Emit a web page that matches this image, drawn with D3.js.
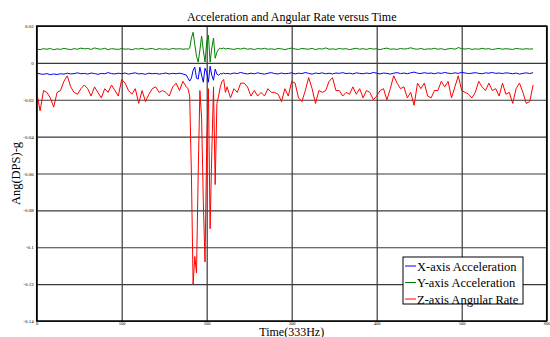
<!DOCTYPE html>
<html>
<head>
<meta charset="utf-8">
<script src="https://cdn.jsdelivr.net/npm/d3@7"></script>
<style>
  body { margin: 0; background: #fff; }
  svg { display: block; font-family: "Liberation Serif", "Times New Roman", serif; }
</style>
</head>
<body>
<svg width="550" height="337"></svg>
<script>
// sample grid: every 4 samples, every 2 samples around the impact
const sampleTimes = [].concat(d3.range(0, 177, 4), d3.range(178, 225, 2), d3.range(228, 585, 4));

const xTicks = [0, 100, 200, 300, 400, 500, 600];
const yTicks = [0.02, 0, -0.02, -0.04, -0.06, -0.08, -0.1, -0.12, -0.14];

const seriesNames = ["X-axis Acceleration", "Y-axis Acceleration", "Z-axis Angular Rate"];
const seriesColors = ["#0000ff", "#008000", "#ff0000"];

const xAccel = [
  -0.0055,-0.0060,-0.0062,-0.0058,-0.0064,-0.0060,-0.0063,-0.0059,-0.0061,-0.0056,
  -0.0060,-0.0058,-0.0054,-0.0059,-0.0057,-0.0061,-0.0055,-0.0058,-0.0062,-0.0057,
  -0.0059,-0.0053,-0.0058,-0.0060,-0.0056,-0.0059,-0.0055,-0.0061,-0.0057,-0.0054,
  -0.0060,-0.0058,-0.0062,-0.0056,-0.0059,-0.0057,-0.0061,-0.0058,-0.0055,-0.0060,
  -0.0057,-0.0059,-0.0056,-0.0060,-0.0066,
  -0.0083,-0.0099,-0.0083,-0.0040,-0.0023,-0.0083,-0.0088,-0.0023,-0.0067,-0.0105,
  -0.0029,-0.0050,-0.0105,-0.0018,-0.0067,-0.0094,-0.0034,-0.0061,-0.0067,-0.0058,
  -0.0060,-0.0055,-0.0059,-0.0057,
  -0.0060,-0.0055,-0.0058,-0.0052,-0.0057,-0.0060,-0.0056,-0.0059,-0.0054,-0.0058,
  -0.0061,-0.0056,-0.0053,-0.0058,-0.0060,-0.0055,-0.0059,-0.0057,-0.0054,-0.0060,
  -0.0056,-0.0058,-0.0052,-0.0057,-0.0061,-0.0055,-0.0058,-0.0054,-0.0059,-0.0056,
  -0.0060,-0.0055,-0.0057,-0.0053,-0.0058,-0.0056,-0.0060,-0.0054,-0.0057,-0.0059,
  -0.0055,-0.0058,-0.0052,-0.0056,-0.0060,-0.0055,-0.0057,-0.0061,-0.0056,-0.0053,
  -0.0058,-0.0055,-0.0059,-0.0054,-0.0050,-0.0056,-0.0058,-0.0053,-0.0057,-0.0055,
  -0.0059,-0.0054,-0.0057,-0.0052,-0.0056,-0.0058,-0.0054,-0.0057,-0.0051,-0.0055,
  -0.0058,-0.0056,-0.0053,-0.0057,-0.0059,-0.0054,-0.0056,-0.0052,-0.0057,-0.0055,
  -0.0058,-0.0054,-0.0056,-0.0059,-0.0055,-0.0061,-0.0057,-0.0054,-0.0058,-0.0053
];

const yAccel = [
  0.0075,0.0072,0.0077,0.0074,0.0078,0.0071,0.0076,0.0073,0.0079,0.0075,
  0.0072,0.0077,0.0074,0.0080,0.0076,0.0078,0.0073,0.0081,0.0076,0.0074,
  0.0079,0.0072,0.0077,0.0075,0.0073,0.0078,0.0074,0.0076,0.0071,0.0077,
  0.0075,0.0079,0.0073,0.0076,0.0078,0.0072,0.0077,0.0074,0.0076,0.0073,
  0.0078,0.0075,0.0077,0.0074,0.0076,
  0.0074,0.0080,0.0134,0.0166,0.0100,0.0036,0.0004,0.0069,0.0145,0.0069,
  0.0004,0.0112,0.0150,0.0004,0.0080,0.0134,0.0025,0.0058,0.0074,0.0079,
  0.0076,0.0081,0.0075,0.0078,
  0.0076,0.0073,0.0078,0.0075,0.0080,0.0074,0.0077,0.0072,0.0078,0.0075,
  0.0079,0.0074,0.0076,0.0073,0.0078,0.0076,0.0072,0.0077,0.0080,0.0075,
  0.0073,0.0078,0.0076,0.0074,0.0079,0.0072,0.0077,0.0075,0.0081,0.0074,
  0.0076,0.0073,0.0078,0.0075,0.0077,0.0072,0.0076,0.0079,0.0074,0.0077,
  0.0073,0.0078,0.0075,0.0076,0.0072,0.0077,0.0080,0.0074,0.0076,0.0073,
  0.0078,0.0075,0.0077,0.0082,0.0076,0.0074,0.0078,0.0073,0.0076,0.0075,
  0.0079,0.0074,0.0077,0.0072,0.0076,0.0078,0.0074,0.0083,0.0077,0.0075,
  0.0078,0.0073,0.0076,0.0074,0.0079,0.0075,0.0077,0.0072,0.0076,0.0078,
  0.0074,0.0077,0.0075,0.0073,0.0078,0.0076,0.0074,0.0077,0.0075,0.0076
];

const zRate = [
  -0.016,-0.026,-0.015,-0.016,-0.019,-0.024,-0.016,-0.015,-0.010,-0.007,
  -0.013,-0.016,-0.017,-0.014,-0.012,-0.014,-0.018,-0.013,-0.016,-0.019,
  -0.014,-0.016,-0.012,-0.015,-0.018,-0.009,-0.011,-0.015,-0.017,-0.014,
  -0.022,-0.015,-0.021,-0.017,-0.014,-0.013,-0.016,-0.015,-0.016,-0.018,
  -0.013,-0.011,-0.015,-0.010,-0.013,
  -0.014,-0.018,-0.060,-0.120,-0.105,-0.114,-0.060,-0.015,-0.030,-0.075,
  -0.108,-0.045,-0.014,-0.090,-0.048,-0.013,-0.066,-0.022,-0.018,-0.013,
  -0.010,-0.009,-0.016,-0.013,
  -0.019,-0.014,-0.016,-0.011,-0.011,-0.013,-0.018,-0.015,-0.018,-0.016,
  -0.018,-0.014,-0.016,-0.016,-0.017,-0.021,-0.014,-0.018,-0.010,-0.011,
  -0.019,-0.021,-0.015,-0.008,-0.014,-0.022,-0.015,-0.016,-0.015,-0.010,
  -0.008,-0.015,-0.015,-0.018,-0.016,-0.017,-0.013,-0.017,-0.014,-0.019,
  -0.015,-0.016,-0.020,-0.018,-0.015,-0.014,-0.020,-0.014,-0.007,-0.011,
  -0.014,-0.013,-0.019,-0.016,-0.023,-0.011,-0.014,-0.011,-0.018,-0.019,
  -0.015,-0.015,-0.010,-0.013,-0.010,-0.019,-0.013,-0.007,-0.015,-0.016,
  -0.017,-0.019,-0.016,-0.010,-0.013,-0.015,-0.011,-0.015,-0.014,-0.018,
  -0.011,-0.017,-0.016,-0.022,-0.014,-0.011,-0.016,-0.022,-0.021,-0.012
];

const seriesValues = [xAccel, yAccel, zRate];

const svg = d3.select("svg");

const plotLeft = 36.7, plotRight = 546.7, plotTop = 26, plotBottom = 321;

const x = d3.scaleLinear().domain([0, 600]).range([plotLeft, plotRight]);
const y = d3.scaleLinear().domain([-0.14, 0.02]).range([plotBottom, plotTop]);

// grid + tick labels
const yAxis = d3.axisLeft(y)
  .tickValues(yTicks)
  .tickSize(-(plotRight - plotLeft))
  .tickPadding(3)
  .tickFormat(d => `${+d.toFixed(2)}`);

const xAxis = d3.axisBottom(x)
  .tickValues(xTicks)
  .tickSize(-(plotBottom - plotTop))
  .tickPadding(0.5)
  .tickFormat(d => d);

svg.append("g")
  .attr("transform", `translate(${plotLeft},0)`)
  .call(yAxis)
  .call(g => g.select(".domain").remove())
  .call(g => g.selectAll("line").attr("stroke", "#3a3a3a").attr("stroke-width", 1.2))
  .call(g => g.selectAll("text").attr("font-size", 5).attr("font-family", "Liberation Serif"));

svg.append("g")
  .attr("transform", `translate(0,${plotBottom})`)
  .call(xAxis)
  .call(g => g.select(".domain").remove())
  .call(g => g.selectAll("line").attr("stroke", "#3a3a3a").attr("stroke-width", 1.2))
  .call(g => g.selectAll("text").attr("font-size", 4.5).attr("font-family", "Liberation Serif"));

// series
const line = d3.line()
  .x((d, i) => x(sampleTimes[i]))
  .y(d => y(d));

svg.append("g")
  .selectAll("path")
  .data(seriesValues)
  .join("path")
  .attr("d", d => line(d))
  .attr("fill", "none")
  .attr("stroke", (d, i) => seriesColors[i])
  .attr("stroke-width", 1);

// frame
svg.append("rect")
  .attr("x", plotLeft).attr("y", plotTop)
  .attr("width", plotRight - plotLeft).attr("height", plotBottom - plotTop)
  .attr("fill", "none")
  .attr("stroke", "#000")
  .attr("stroke-width", 1.5);

// title and axis labels
svg.append("text")
  .attr("x", (plotLeft + plotRight) / 2).attr("y", 21)
  .attr("text-anchor", "middle")
  .attr("font-size", 12)
  .text("Acceleration and Angular Rate versus Time");

svg.append("text")
  .attr("x", (plotLeft + plotRight) / 2).attr("y", 335.5)
  .attr("text-anchor", "middle")
  .attr("font-size", 12)
  .text("Time(333Hz)");

svg.append("text")
  .attr("transform", `translate(20,${(plotTop + plotBottom) / 2}) rotate(-90)`)
  .attr("text-anchor", "middle")
  .attr("font-size", 12.5)
  .text("Ang(DPS)-g");

// legend
const legend = svg.append("g").attr("transform", "translate(403,257)");

legend.append("rect")
  .attr("width", 120).attr("height", 47)
  .attr("fill", "#fff")
  .attr("stroke", "#000")
  .attr("stroke-width", 1);

const items = legend.selectAll("g.item")
  .data(seriesNames)
  .join("g")
  .attr("class", "item")
  .attr("transform", (d, i) => `translate(0,${9 + i * 16.5})`);

items.append("line")
  .attr("x1", 2).attr("x2", 13)
  .attr("stroke", (d, i) => seriesColors[i])
  .attr("stroke-width", 1);

items.append("text")
  .attr("x", 14).attr("y", 4.5)
  .attr("font-size", 12.5)
  .text(d => d);
</script>
</body>
</html>
